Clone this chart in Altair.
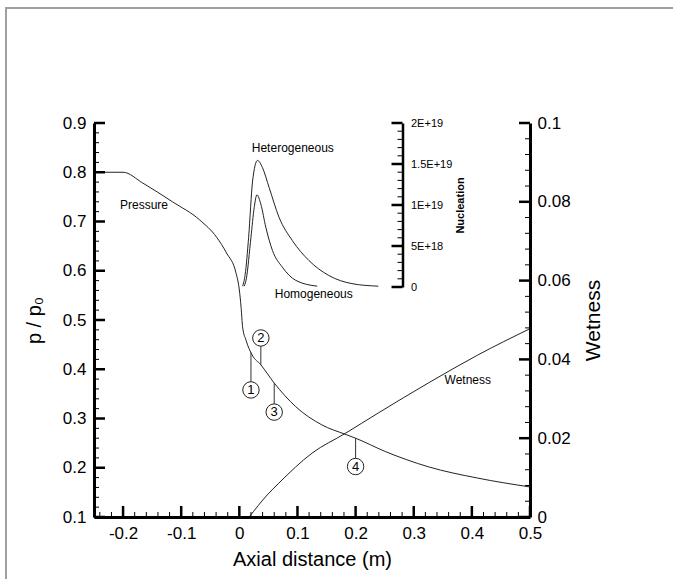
import altair as alt
import pandas as pd

FONT = "Liberation Sans"
W, H = 436, 394            # plot area (px)
INSET_AXIS_X = 308.5       # nucleation axis position, px from the plot's left edge
INSET_H = 164              # nucleation axis length (px), from the top of the plot
MAJOR_LEN, MINOR_LEN = 11, 5

# ---- data -----------------------------------------------------------------
# static-to-stagnation pressure ratio along the nozzle axis
PRESSURE_X = [-0.25, -0.2, -0.166, -0.115, -0.068, -0.039, -0.022, -0.0056,
              0.0, 0.003, 0.0056, 0.0115, 0.022, 0.037, 0.06, 0.097, 0.142,
              0.182, 0.2, 0.251, 0.325, 0.41, 0.5]
PRESSURE_P = [0.8, 0.8, 0.778, 0.740, 0.703, 0.668, 0.636, 0.595,
              0.561, 0.526, 0.486, 0.459, 0.429, 0.409, 0.372, 0.324, 0.287,
              0.268, 0.260, 0.233, 0.202, 0.179, 0.161]

# liquid mass fraction
WET_X = [0.017, 0.048, 0.068, 0.125, 0.182, 0.239, 0.325, 0.41, 0.5]
WET_Y = [0.0, 0.0056, 0.0086, 0.0162, 0.0212, 0.0264, 0.0340, 0.0411, 0.0478]

# nucleation rates
HET_X = [0.0057, 0.010, 0.016, 0.0228, 0.0313, 0.0399, 0.0513, 0.0684, 0.0912,
         0.1197, 0.1538, 0.1937, 0.239]
HET_N = [0.01e19, 0.15e19, 0.606e19, 1.293e19, 1.544e19, 1.454e19, 1.212e19,
         0.848e19, 0.566e19, 0.323e19, 0.141e19, 0.041e19, 0.01e19]
HOM_X = [0.0085, 0.012, 0.02, 0.0256, 0.0302, 0.037, 0.0456, 0.057, 0.074, 0.097, 0.134]
HOM_N = [0.01e19, 0.1e19, 0.606e19, 0.97e19, 1.123e19, 1.01e19, 0.727e19,
         0.445e19, 0.242e19, 0.081e19, 0.01e19]

# numbered measurement stations on the pressure curve
STATION_ID = ["1", "2", "3", "4"]
STATION_X = [0.02, 0.037, 0.06, 0.2]
STATION_P = [0.434, 0.409, 0.372, 0.260]      # pressure at the station
STATION_TAG_P = [0.358, 0.4635, 0.313, 0.2025]  # where the numbered tag sits

# axis ticks and labels
X_MAJOR = [-0.2, -0.1, 0, 0.1, 0.2, 0.3, 0.4, 0.5]
P_MAJOR = [0.1, 0.2, 0.3, 0.4, 0.5, 0.6, 0.7, 0.8, 0.9]
W_MAJOR = [0, 0.02, 0.04, 0.06, 0.08, 0.1]
N_MAJOR = [0, 5e18, 1e19, 1.5e19, 2e19]
N_LABELS = ["0", "5E+18", "1E+19", "1.5E+19", "2E+19"]

X_MINOR = [round(-0.24 + 0.02 * i, 2) for i in range(38) if (i - 2) % 5 != 0]
P_MINOR = [round(0.1 + 0.02 * i, 2) for i in range(1, 40) if i % 5 != 0]
W_MINOR = [round(0.004 * i, 3) for i in range(1, 25) if i % 5 != 0]
N_MINOR = [1e18 * i for i in range(1, 20) if i % 5 != 0]

# ---- scales and axes ----------------------------------------------------------
x_scale = alt.Scale(domain=[-0.25, 0.5], nice=False, zero=False)
p_scale = alt.Scale(domain=[0.1, 0.9], nice=False, zero=False)
w_scale = alt.Scale(domain=[0, 0.1], nice=False)
n_scale = alt.Scale(domain=[0, 2e19], range=[INSET_H, 0], nice=False)

axis_style = dict(ticks=False, grid=False, domainColor="black", labelColor="black",
                  titleColor="black", labelFont=FONT, titleFont=FONT,
                  titleFontWeight="normal", labelFlush=False, labelOverlap=False,
                  zindex=1)

x_axis = alt.Axis(values=X_MAJOR, labelExpr="'' + datum.value", domainWidth=3,
                  labelFontSize=17, labelPadding=8, title="Axial distance (m)",
                  titleFontSize=20, titlePadding=8, **axis_style)
p_axis = alt.Axis(orient="left", values=P_MAJOR, labelExpr="'' + datum.value",
                  domainWidth=3, labelFontSize=17, labelPadding=8, title="p / p₀",
                  titleFontSize=20, titlePadding=18, **axis_style)
w_axis = alt.Axis(orient="right", values=W_MAJOR, labelExpr="'' + datum.value",
                  domainWidth=3, labelFontSize=17, labelPadding=7, title="Wetness",
                  titleFontSize=21, titleAngle=270, titleBaseline="top",
                  titlePadding=12, **axis_style)

n_expr = "'0'"
for v, lab in zip(N_MAJOR[1:], N_LABELS[1:]):
    n_expr = f"abs(datum.value - {v:.4g}) < 1e17 ? '{lab}' : ({n_expr})"
n_axis = alt.Axis(orient="right", offset=INSET_AXIS_X - W, values=N_MAJOR,
                  labelExpr=n_expr, domainWidth=2.5, labelFontSize=11, labelPadding=8,
                  title="Nucleation", titleFontSize=11, titleAngle=270,
                  titleBaseline="top", titlePadding=3,
                  **{**axis_style, "titleFontWeight": "bold"})

LINE = dict(color="#222222", strokeWidth=1, interpolate="monotone")


def X(field):
    return alt.X(field, type="quantitative", scale=x_scale, axis=x_axis)


def h_ticks(values, scale, axis, x0, x1, width):
    return alt.Chart(pd.DataFrame({"v": values})).mark_rule(
        color="black", strokeWidth=width).encode(
        y=alt.Y("v:Q", scale=scale, axis=axis), x=alt.value(x0), x2=alt.value(x1))


def label(text, x, y, scale, axis, dy=0):
    return alt.Chart(pd.DataFrame({"x": [x], "y": [y], "t": [text]})).mark_text(
        font=FONT, fontSize=12, color="black", dy=dy).encode(
        x=X("x"), y=alt.Y("y:Q", scale=scale, axis=axis), text="t:N")


# ---- pressure (left axis) ---------------------------------------------------
pressure_df = pd.DataFrame({"x": PRESSURE_X, "p": PRESSURE_P})
stations = pd.DataFrame({"id": STATION_ID, "x": STATION_X, "p": STATION_P,
                         "tag": STATION_TAG_P})

# thin grey border around the whole figure
frame = alt.Chart(pd.DataFrame({"a": [0]})).mark_rect(
    fill="white", fillOpacity=0, stroke="#a0a0a0", strokeWidth=2).encode(
    x=alt.value(-88), x2=alt.value(W + 200), y=alt.value(-115), y2=alt.value(H + 200))

pressure_line = alt.Chart(pressure_df).mark_line(**LINE).encode(
    x=X("x"), y=alt.Y("p:Q", scale=p_scale, axis=p_axis))

x_ticks_major = alt.Chart(pd.DataFrame({"v": X_MAJOR})).mark_rule(
    color="black", strokeWidth=2.5).encode(
    x=X("v"), y=alt.value(H), y2=alt.value(H - MAJOR_LEN))
x_ticks_minor = alt.Chart(pd.DataFrame({"v": X_MINOR})).mark_rule(
    color="black", strokeWidth=1).encode(
    x=X("v"), y=alt.value(H), y2=alt.value(H - MINOR_LEN))

leaders = alt.Chart(stations).mark_rule(color="#333333", strokeWidth=1).encode(
    x=X("x"), y=alt.Y("p:Q", scale=p_scale, axis=p_axis), y2="tag:Q")
tags = alt.Chart(stations).mark_circle(
    size=270, fill="white", opacity=1, stroke="#222222", strokeWidth=1).encode(
    x=X("x"), y=alt.Y("tag:Q", scale=p_scale, axis=p_axis))
tag_text = alt.Chart(stations).mark_text(font=FONT, fontSize=13, color="black").encode(
    x=X("x"), y=alt.Y("tag:Q", scale=p_scale, axis=p_axis), text="id:N")

pressure_layer = alt.layer(
    frame, pressure_line, x_ticks_major, x_ticks_minor,
    h_ticks(P_MAJOR, p_scale, p_axis, 0, MAJOR_LEN, 2.5),
    h_ticks(P_MINOR, p_scale, p_axis, 0, MINOR_LEN, 1),
    leaders, tags, tag_text,
    label("Pressure", -0.164, 0.7335, p_scale, p_axis),
)

# ---- wetness (right axis) ---------------------------------------------------
wet_df = pd.DataFrame({"x": WET_X, "w": WET_Y})
wet_line = alt.Chart(wet_df).mark_line(**LINE).encode(
    x=X("x"), y=alt.Y("w:Q", scale=w_scale, axis=w_axis))
wet_layer = alt.layer(
    wet_line,
    h_ticks(W_MAJOR, w_scale, w_axis, W - MAJOR_LEN, W, 2.5),
    h_ticks(W_MINOR, w_scale, w_axis, W - MINOR_LEN, W, 1),
    label("Wetness", 0.393, 0.0348, w_scale, w_axis),
)

# ---- nucleation rates (inner axis) ---------------------------------------------
nuc_df = pd.concat([
    pd.DataFrame({"x": HET_X, "n": HET_N, "kind": "Heterogeneous"}),
    pd.DataFrame({"x": HOM_X, "n": HOM_N, "kind": "Homogeneous"}),
])
nuc_lines = alt.Chart(nuc_df).mark_line(**LINE).encode(
    x=X("x"), y=alt.Y("n:Q", scale=n_scale, axis=n_axis), detail="kind:N")
nuc_layer = alt.layer(
    nuc_lines,
    h_ticks(N_MAJOR, n_scale, n_axis, INSET_AXIS_X - MAJOR_LEN, INSET_AXIS_X, 2.5),
    h_ticks(N_MINOR, n_scale, n_axis, INSET_AXIS_X - MINOR_LEN, INSET_AXIS_X, 1),
    label("Heterogeneous", 0.092, 1.693e19, n_scale, n_axis),
    label("Homogeneous", 0.128, 0, n_scale, n_axis, dy=7),
)

chart = alt.layer(pressure_layer, wet_layer, nuc_layer).resolve_scale(
    y="independent").properties(
    width=W, height=H,
    autosize=alt.AutoSizeParams(type="none"),
    padding={"left": 94, "top": 123, "right": 673 - 94 - W, "bottom": 579 - 123 - H},
    background="white",
).configure_view(strokeWidth=0)

chart.save("out.html", embed_options={"renderer": "svg", "actions": False})
